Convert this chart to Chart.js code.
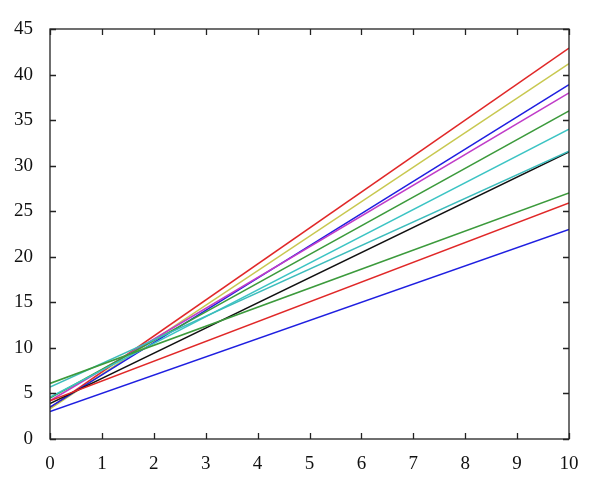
<!DOCTYPE html>
<html>
<head>
<meta charset="utf-8">
<script src="https://cdn.jsdelivr.net/npm/chart.js@4.4.1/dist/chart.umd.min.js"></script>
<style>
    html, body { margin: 0; padding: 0; background: #fff; }
    #wrap { width: 600px; height: 490px; }
</style>
</head>
<body>
<div id="wrap"><canvas id="chart" width="600" height="490"></canvas></div>
<script>
// x range of every line: start and end
const xPoints = [0, 10];

// y values at x = 0 and x = 10 for each line
const redSteep = [3.4, 42.9];
const yellowLine = [3.3, 41.2];
const blueSteep = [3.5, 38.9];
const magentaLine = [4.2, 38.0];
const greenSteep = [4.5, 36.0];
const cyanSteep = [4.6, 34.0];
const cyanFlat = [5.7, 31.6];
const blackLine = [3.9, 31.5];
const greenFlat = [6.1, 27.0];
const redFlat = [4.2, 25.9];
const blueFlat = [3.0, 23.0];

const xTicks = [0, 1, 2, 3, 4, 5, 6, 7, 8, 9, 10];
const yTicks = [0, 5, 10, 15, 20, 25, 30, 35, 40, 45];

const series = [
    { vals: blueFlat, color: '#1f1fe0' },
    { vals: redFlat, color: '#e02828' },
    { vals: greenFlat, color: '#3c9a3c' },
    { vals: cyanFlat, color: '#3cbcbc' },
    { vals: blackLine, color: '#111111' },
    { vals: cyanSteep, color: '#3cc4c4' },
    { vals: greenSteep, color: '#3c9a3c' },
    { vals: magentaLine, color: '#c03cc8' },
    { vals: blueSteep, color: '#1f1fe0' },
    { vals: yellowLine, color: '#c8c850' },
    { vals: redSteep, color: '#e02828' }
];

const toPoints = (vals) => xPoints.map((x, i) => ({ x: x, y: vals[i] }));

// box + inward ticks on all four sides
const frame = {
    id: 'frame',
    afterDraw(chart) {
        const ctx = chart.ctx;
        const a = chart.chartArea;
        const xs = chart.scales.x;
        const ys = chart.scales.y;
        const len = 6;
        ctx.save();
        ctx.strokeStyle = '#222';
        ctx.lineWidth = 1.3;
        ctx.strokeRect(a.left, a.top, a.right - a.left, a.bottom - a.top);
        ctx.beginPath();
        xTicks.forEach(v => {
            const px = Math.round(xs.getPixelForValue(v)) + 0.5;
            ctx.moveTo(px, a.bottom); ctx.lineTo(px, a.bottom - len);
            ctx.moveTo(px, a.top); ctx.lineTo(px, a.top + len);
        });
        yTicks.forEach(v => {
            const py = Math.round(ys.getPixelForValue(v)) + 0.5;
            ctx.moveTo(a.left, py); ctx.lineTo(a.left + len, py);
            ctx.moveTo(a.right, py); ctx.lineTo(a.right - len, py);
        });
        ctx.stroke();
        ctx.restore();
    }
};

new Chart(document.getElementById('chart'), {
    type: 'line',
    data: {
        datasets: series.map(s => ({
            data: toPoints(s.vals),
            borderColor: s.color,
            borderWidth: 1.5,
            pointRadius: 0,
            fill: false,
            tension: 0
        }))
    },
    options: {
        responsive: false,
        animation: false,
        events: [],
        layout: { padding: { left: 0, right: 31, top: 29, bottom: 0 } },
        plugins: { legend: { display: false }, tooltip: { enabled: false } },
        scales: {
            x: {
                type: 'linear',
                min: 0, max: 10,
                afterFit: (scale) => { scale.height = 51; },
                afterBuildTicks: (scale) => { scale.ticks = xTicks.map(v => ({ value: v })); },
                grid: { display: false },
                border: { display: false },
                ticks: {
                    color: '#111',
                    padding: 6,
                    maxRotation: 0,
                    font: { family: 'Liberation Serif', size: 19 }
                }
            },
            y: {
                min: 0, max: 45,
                afterFit: (scale) => { scale.width = 50; },
                afterBuildTicks: (scale) => { scale.ticks = yTicks.map(v => ({ value: v })); },
                grid: { display: false },
                border: { display: false },
                ticks: {
                    color: '#111',
                    padding: 9,
                    font: { family: 'Liberation Serif', size: 19 }
                }
            }
        }
    },
    plugins: [frame]
});
</script>
</body>
</html>
